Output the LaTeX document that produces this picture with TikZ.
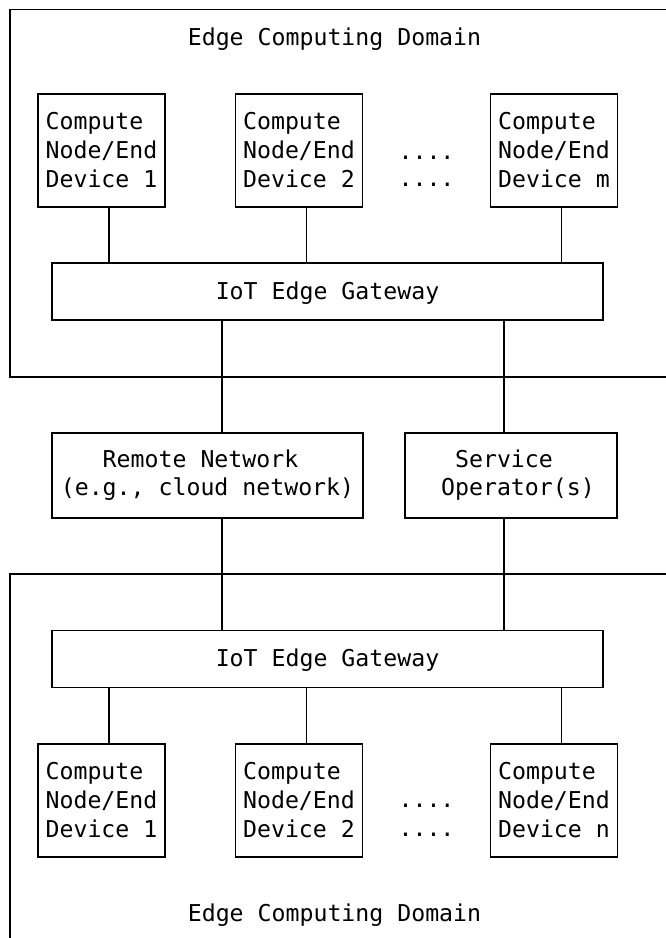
\documentclass[tikz,border=0pt]{standalone}
\usepackage{fontspec}
\setmainfont{DejaVu Sans Mono}
\begin{document}
\begin{tikzpicture}[x=1pt,y=-1pt,
  every node/.style={font=\fontsize{23.2}{29}\selectfont},
  ln/.style={line width=1.3pt},
  boxbase/.style={draw, line width=1.3pt, inner sep=0pt},
  devbox/.style={boxbase, minimum width=127pt, minimum height=113pt, align=left},
  gwbox/.style={boxbase, minimum width=551pt, minimum height=57pt, text height=21pt, text depth=5.5pt},
  midbox/.style={boxbase, minimum height=85pt, align=left, font=\fontsize{23.2}{28}\selectfont},
  dotsnode/.style={align=center, inner sep=0pt},
  domtitle/.style={anchor=base, inner sep=0pt}]
\useasboundingbox (0,0) rectangle (665,938);

% domains
\draw[ln] (667,9.5) -- (10,9.5) -- (10,377) -- (667,377);
\draw[ln] (667,574) -- (10,574) -- (10,940);
\node[domtitle] (dtop) at (334.5,45) {Edge Computing Domain};
\node[domtitle] (dbot) at (334.5,921) {Edge Computing Domain};

% top devices
\node[devbox] (t1) at (101.5,150.5) {Compute\\Node/End\\Device 1};
\node[devbox] (t2) at (299,150.5) {Compute\\Node/End\\Device 2};
\node[devbox] (t3) at (554,150.5) {Compute\\Node/End\\Device m};
\node[dotsnode, font=\fontsize{23.2}{27}\selectfont] (tdots) at (426.5,171) {....\\....};
\node[gwbox] (tgw) at (327.5,291.5) {IoT Edge Gateway};

% middle
\node[midbox, minimum width=311pt] (rn) at (207.5,475.5) {\phantom{xxx}Remote Network\\(e.g., cloud network)};
\node[midbox, minimum width=212pt] (so) at (511,475.5) {\phantom{xx}Service\\\phantom{x}Operator(s)};

% bottom
\node[gwbox] (bgw) at (327.5,659) {IoT Edge Gateway};
\node[devbox] (b1) at (101.5,800.5) {Compute\\Node/End\\Device 1};
\node[devbox] (b2) at (299,800.5) {Compute\\Node/End\\Device 2};
\node[devbox] (b3) at (554,800.5) {Compute\\Node/End\\Device n};
\node[dotsnode] (bdots) at (426.5,820.5) {....\\....};

% connectors top
\foreach \n in {t1,t2,t3}
  \draw[ln] ([xshift=7.5pt]\n.south) -- ([xshift=7.5pt]\n.south |- tgw.north);
\draw[ln] ([xshift=14.5pt]rn.north |- tgw.south) -- ([xshift=14.5pt]rn.north);
\draw[ln] ([xshift=-7pt]so.north |- tgw.south) -- ([xshift=-7pt]so.north);
\draw[ln] ([xshift=14.5pt]rn.south) -- ([xshift=14.5pt]rn.south |- bgw.north);
\draw[ln] ([xshift=-7pt]so.south) -- ([xshift=-7pt]so.south |- bgw.north);
\foreach \n in {b1,b2,b3}
  \draw[ln] ([xshift=7.5pt]\n.north |- bgw.south) -- ([xshift=7.5pt]\n.north);
\end{tikzpicture}
\end{document}
